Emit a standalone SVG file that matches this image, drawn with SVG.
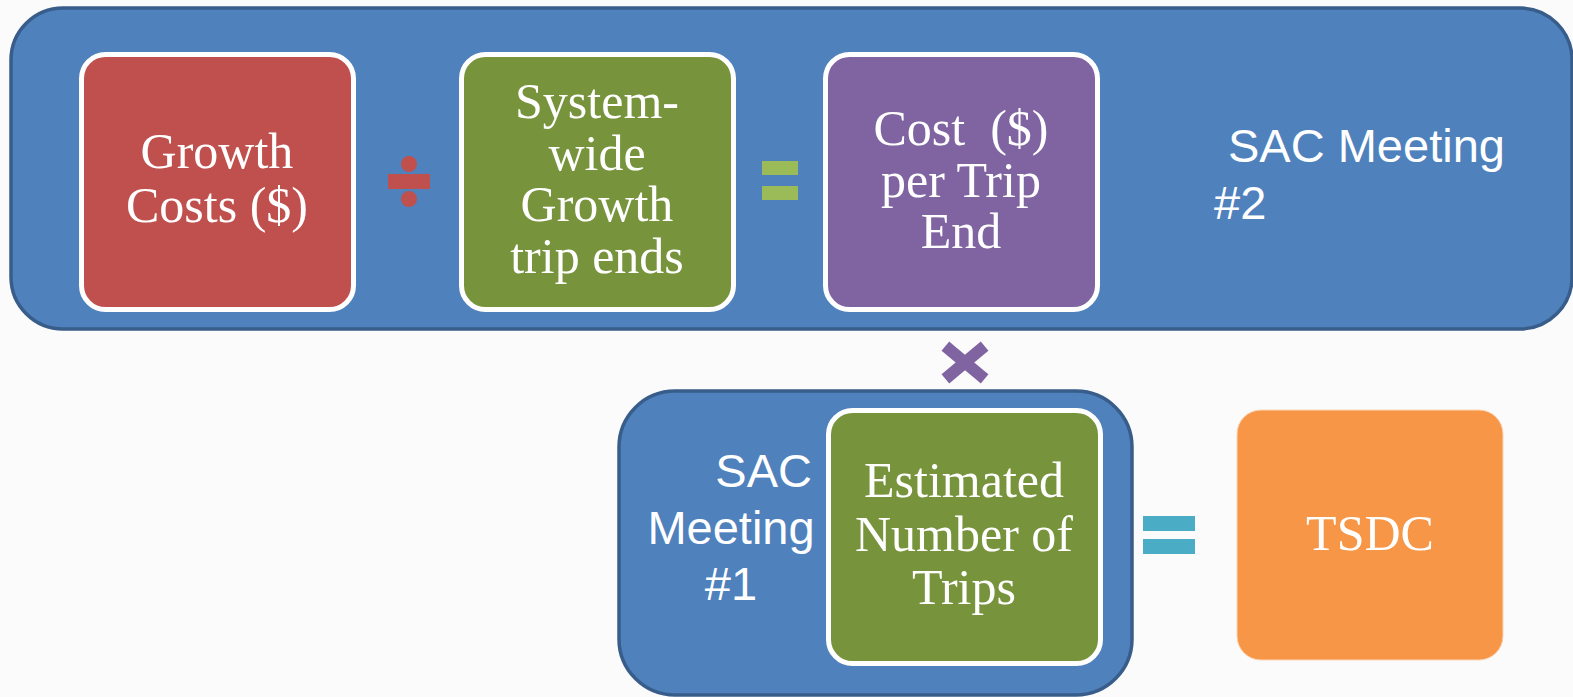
<svg xmlns="http://www.w3.org/2000/svg" width="1573" height="697" viewBox="0 0 1573 697">
<defs>
<style>
.container{fill:#4f81bd;stroke:#385d8a;stroke-width:3.5}
.box{stroke:#ffffff;stroke-width:5}
.serif{font-family:"Liberation Serif","DejaVu Serif",serif;font-size:50px;fill:#ffffff;text-anchor:middle}
.sans{font-family:"Liberation Sans",Arial,sans-serif;font-size:47px;fill:#ffffff}
</style>
</defs>
<rect width="1573" height="697" fill="#fbfbfb"/>
<g id="sac2">
<rect class="container" x="11" y="8" width="1561" height="321" rx="52"/>
<text class="sans" x="1228" y="162"> SAC Meeting</text>
<text class="sans" x="1214" y="219">#2</text>
</g>
<g id="growth-costs">
<rect class="box" x="81.5" y="54.5" width="272" height="255" rx="24" fill="#c0504d"/>
<text class="serif" x="217" y="168">Growth</text>
<text class="serif" x="217" y="222">Costs ($)</text>
</g>
<g id="trip-ends">
<rect class="box" x="461.5" y="54.5" width="272" height="255" rx="24" fill="#77933c"/>
<text class="serif" x="597" y="118">System-</text>
<text class="serif" x="597" y="170">wide</text>
<text class="serif" x="597" y="221">Growth</text>
<text class="serif" x="597" y="273">trip ends</text>
</g>
<g id="cost-per-trip">
<rect class="box" x="825.5" y="54.5" width="272" height="255" rx="24" fill="#8064a2"/>
<text class="serif" x="961" y="145" xml:space="preserve">Cost  ($)</text>
<text class="serif" x="961" y="197">per Trip</text>
<text class="serif" x="961" y="248">End</text>
</g>
<g id="sac1">
<rect class="container" x="619" y="391" width="513" height="304" rx="56"/>
<text class="sans" x="812" y="487" text-anchor="end">SAC</text>
<text class="sans" x="731" y="544" text-anchor="middle">Meeting</text>
<text class="sans" x="731" y="600" text-anchor="middle">#1</text>
</g>
<g id="estimated-trips">
<rect class="box" x="828.5" y="410.5" width="272" height="253" rx="24" fill="#77933c"/>
<text class="serif" x="964" y="497">Estimated</text>
<text class="serif" x="964" y="551">Number of</text>
<text class="serif" x="964" y="604">Trips</text>
</g>
<g id="tsdc">
<rect x="1237" y="410" width="266" height="250" rx="24" fill="#f79646" stroke="#fbd5b5" stroke-width="1"/>
<text class="serif" x="1370" y="550">TSDC</text>
</g>
<g id="operators">
<rect x="388" y="174" width="42" height="15" fill="#c0504d"/>
<circle cx="409" cy="164" r="8" fill="#c0504d"/>
<circle cx="409" cy="199" r="8" fill="#c0504d"/>
<rect x="762" y="161" width="36" height="14" fill="#9bbb59"/>
<rect x="762" y="186" width="36" height="14" fill="#9bbb59"/>
<path d="M950 350 L980 375 M980 350 L950 375" stroke="#8064a2" stroke-width="12" stroke-linecap="square"/>
<rect x="1143" y="516" width="52" height="15" fill="#4bacc6"/>
<rect x="1143" y="539" width="52" height="15" fill="#4bacc6"/>
</g>
</svg>
